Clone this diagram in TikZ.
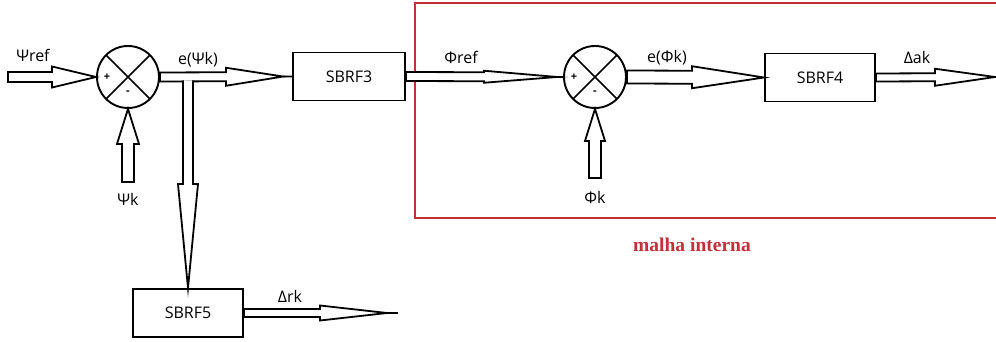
\documentclass[tikz,border=0pt]{standalone}
\usepackage{fontspec}
\setmainfont{Open Sans}
\newfontfamily\titleserif{Liberation Serif}
\usetikzlibrary{calc}
\definecolor{loopred}{RGB}{196,48,58}
\tikzset{
  x=1pt, y=-1pt,
  wire/.style={line width=1.8pt, line join=miter, miter limit=20},
  block/.style={draw, line width=1.9pt, rectangle, minimum width=110pt,
    minimum height=48pt, inner sep=0pt, font=\fontsize{16}{19}\selectfont},
  summer/.style={draw, line width=1.9pt, circle, minimum size=62pt, inner sep=0pt,
    path picture={\draw[line width=1.7pt]
      (path picture bounding box.north west) -- (path picture bounding box.south east)
      (path picture bounding box.north east) -- (path picture bounding box.south west);}},
  lbl/.style={font=\fontsize{16}{19}\selectfont, inner sep=0pt},
  sign/.style={font=\fontsize{11}{13}\selectfont\bfseries, inner sep=0pt},
}
% hollow block arrow: #2 from, #3 to, #4 shaft half width, #5 head length,
% #6 head half width, #7 thin tail between tip and target
\newcommand\blockarrow[7][]{%
  \coordinate (ba-t) at ($(#3)!#7!(#2)$);
  \coordinate (ba-h) at ($(ba-t)!#5!(#2)$);
  \filldraw[wire, fill=white, #1]
    ($(#2)!#4!90:(#3)$) -- ($(ba-h)!#4!90:(#3)$) -- ($(ba-h)!#6!90:(#3)$)
    -- (ba-t) -- ($(ba-h)!#6!-90:(#3)$) -- ($(ba-h)!#4!-90:(#3)$)
    -- ($(#2)!#4!-90:(#3)$) -- cycle;
  \draw[wire] (ba-t) -- (#3);
}
% same, but left open at its start (a branch leaving another shaft)
\newcommand\brancharrow[7][]{%
  \coordinate (ba-t) at ($(#3)!#7!(#2)$);
  \coordinate (ba-h) at ($(ba-t)!#5!(#2)$);
  \fill[white]
    ($(#2)!#4!90:(#3)$) -- ($(ba-h)!#4!90:(#3)$) -- ($(ba-h)!#6!90:(#3)$)
    -- (ba-t) -- ($(ba-h)!#6!-90:(#3)$) -- ($(ba-h)!#4!-90:(#3)$)
    -- ($(#2)!#4!-90:(#3)$) -- cycle;
  \draw[wire, #1]
    ($(#2)!#4!90:(#3)$) -- ($(ba-h)!#4!90:(#3)$) -- ($(ba-h)!#6!90:(#3)$)
    -- (ba-t) -- ($(ba-h)!#6!-90:(#3)$) -- ($(ba-h)!#4!-90:(#3)$)
    -- ($(#2)!#4!-90:(#3)$);
  \draw[wire] (ba-t) -- (#3);
}
\begin{document}
\begin{tikzpicture}
  \useasboundingbox (0,0) rectangle (996,342);

  % inner loop frame (open on the right)
  \draw[loopred, line width=2pt] (997,3.5) -- (415,3.5) -- (415,218) -- (997,218);
  \node[text=loopred, font=\titleserif\fontsize{19.5}{23}\selectfont\bfseries, inner sep=0pt]
    (inner) at (692,245) {malha interna};

  % blocks and summing junctions
  \node[summer] (sum1) at (128,77) {};
  \node[block, minimum width=112pt] (b3) at (349,76.5) {SBRF3};
  \node[summer] (sum2) at (595,77) {};
  \node[block] (b4) at (820,77.5) {SBRF4};
  \node[block] (b5) at (188,313) {SBRF5};

  \node[sign] (p1) at ($(sum1)+(-21,0)$) {+};
  \node[sign] (m1) at ($(sum1)+(0,16)$) {-};
  \node[sign] (p2) at ($(sum2)+(-21,0)$) {+};
  \node[sign] (m2) at ($(sum2)+(0,16)$) {-};

  % free ends and the branch point
  \coordinate (in1) at (8,77);
  \coordinate (fb1) at (128,182);
  \coordinate (fb2) at (595,178);
  \coordinate (outa) at (995,77);
  \coordinate (outr) at (398,313);
  \coordinate (br) at (188,80.5);

  % connectors
  \blockarrow{in1}{sum1.west}{5pt}{44pt}{10.5pt}{0pt}
  \blockarrow{fb1}{sum1.south}{6pt}{35pt}{11pt}{0pt}
  \blockarrow{sum1.east}{b3.west}{4.5pt}{57pt}{9pt}{9pt}
  \brancharrow{br}{b5.north}{5pt}{104pt}{10pt}{0pt}
  \blockarrow{b3.east}{sum2.west}{4.5pt}{73pt}{6pt}{6pt}
  \blockarrow{fb2}{sum2.south}{6pt}{32pt}{10pt}{0pt}
  \blockarrow{sum2.east}{b4.west}{6.5pt}{72pt}{11pt}{0pt}
  \blockarrow{b4.east}{outa}{4pt}{60pt}{8.5pt}{0pt}
  \blockarrow{b5.east}{outr}{4pt}{67pt}{7.5pt}{11pt}

  % signal labels
  \node[lbl] (lpsiref) at (33,55) {Ψref};
  \node[lbl] (lpsik) at (128,199) {Ψk};
  \node[lbl] (lepsi) at (198,60) {e(Ψk)};
  \node[lbl] (lphiref) at (461,57) {Φref};
  \node[lbl] (lphik) at (595,197) {Φk};
  \node[lbl] (lephi) at (667,58) {e(Φk)};
  \node[lbl] (lda) at (917,58) {Δak};
  \node[lbl] (ldr) at (290,296) {Δrk};
\end{tikzpicture}
\end{document}
